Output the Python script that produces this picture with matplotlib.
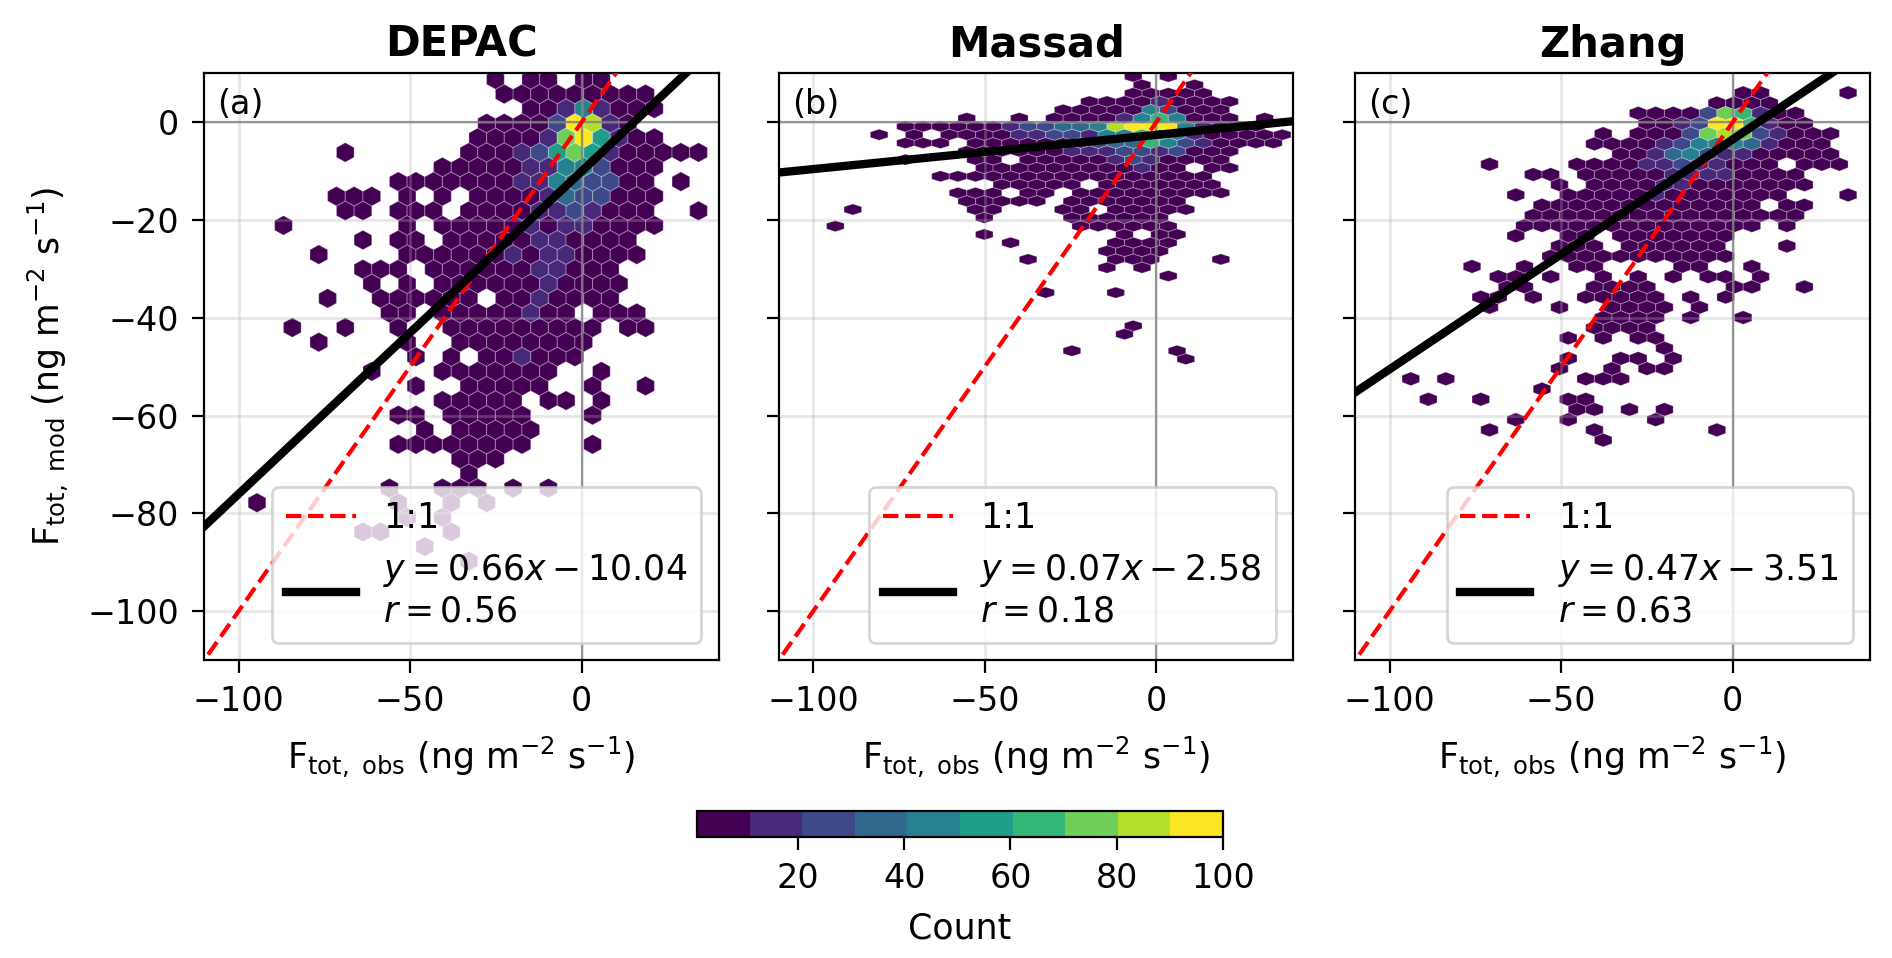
import numpy as np
import matplotlib
matplotlib.use('Agg')
import matplotlib.pyplot as plt

titles = ['DEPAC', 'Massad', 'Zhang']
panel_labels = ['(a)', '(b)', '(c)']
fit_slope = [0.66, 0.07, 0.47]
fit_intercept = [-10.04, -2.58, -3.51]
fit_r = [0.56, 0.18, 0.63]
x_ticks = [-100, -50, 0]
y_ticks = [0, -20, -40, -60, -80, -100]
cbar_ticks = [20, 40, 60, 80, 100]

# hex-cell lattice of each panel
grid_x0 = [-110.1, -108.89, -106.6]   # obs value of column 0
grid_sx = [5.15, 5.11, 5.10]          # column spacing
grid_y0 = [-0.2, -34.85, -8.6]        # mod value of row 0
grid_dy = [2.986, 1.70, 2.09]         # row spacing

# cells: (row, occupied columns, cells whose count is higher: column:count/10)
# occupied cells without an entry hold a handful of points
depac_cells = [
    (3, "16,18-19,21-22", ""),
    (2, "17-25", ""),
    (1, "18-25", "20:1,21:4,22:1"),
    (0, "16-24", "20:2,21:9,22:8,23:1"),
    (-1, "15-25", "19:1,20:7,21:9,22:5,23:1"),
    (-2, "8,15-28", "18:1,19:2,20:5,21:7,22:5,23:1"),
    (-3, "13-25", "18:1,19:1,20:4,21:4,22:2"),
    (-4, "11-25,27", "18:1,19:1,20:4,21:3,22:2,23:2"),
    (-5, "7-9,11,13,15-25", "19:1,20:3,21:2,22:2"),
    (-6, "8-9,11-13,15-25,28", "19:1,20:1,21:2,22:1"),
    (-7, "4,11,13-25", "18:1,20:1,21:1"),
    (-8, "9,11-12,14-24", "19:1,20:1"),
    (-9, "6,11-24", "17:1,19:1,20:1"),
    (-10, "9-11,13-23", "19:1,20:1"),
    (-11, "9,11,13-23", "19:1"),
    (-12, "7,10-15,17-23", "19:1"),
    (-13, "10-11,13-20,22-24", "18:1"),
    (-14, "5,8,11,14-22,24-25", ""),
    (-15, "6,11,14-21", ""),
    (-16, "12,14,16-21", "18:1"),
    (-17, "9,13-19,22", ""),
    (-18, "12,15-19,22,25", ""),
    (-19, "13-17,19-20,22", ""),
    (-20, "11-12,14-18,22", ""),
    (-21, "12,14-18", ""),
    (-22, "11-18,22", ""),
    (-23, "14-16", ""),
    (-24, "15", ""),
    (-25, "10,13-15,17,19", ""),
    (-26, "3,11,14,16", ""),
    (-27, "11,13", ""),
    (-28, "9-10,14", ""),
    (-29, "12", ""),
    (-30, "15", ""),
]

massad_cells = [
    (26, "20,22", ""),
    (25, "20,23", ""),
    (24, "20-24", ""),
    (23, "17-25", "21:1"),
    (22, "16-25", "21:4,22:2"),
    (21, "10,13,15-25,27", "19:1,20:4,21:6,22:4"),
    (20, "7-27", "13:1,14:2,15:2,16:3,17:3,18:4,19:8,20:9,21:9,22:9,23:4,24:1"),
    (19, "5,7,9-28", "13:1,14:1,15:2,16:2,17:1,18:4,19:4,20:6,21:6,22:4,23:1"),
    (18, "7-9,11-28", "17:1,18:2,19:3,20:3,21:6,22:4,23:2,24:1"),
    (17, "10-25", "16:1,17:1,18:1,19:2,20:2,21:1,22:2"),
    (16, "7,11-12,14-25", "19:1,20:2,21:1"),
    (15, "11-22,24-25", "20:1"),
    (14, "9-24", ""),
    (13, "12-16,18-24", ""),
    (12, "10-12,14-15,17-25", ""),
    (11, "10-14,16-22", ""),
    (10, "4,11-12,16-17,19-23", ""),
    (9, "11,16-21", ""),
    (8, "3,17-22", ""),
    (7, "11,19,21-22", ""),
    (6, "13,19-22", ""),
    (5, "18-21", ""),
    (4, "14,19-21,25", ""),
    (3, "18,20", ""),
    (2, "22", ""),
    (0, "15,19", ""),
    (-4, "20", ""),
    (-5, "19", ""),
    (-7, "16,22", ""),
    (-8, "23", ""),
]

zhang_cells = [
    (7, "21-22,27", ""),
    (6, "20-23", ""),
    (5, "15-24", "19:2,20:7,21:6,22:1"),
    (4, "16-25", "18:1,19:2,20:9,21:9,22:6,23:1"),
    (3, "13,15-26", "18:2,19:7,20:8,21:7,22:2,23:1"),
    (2, "13-26", "17:1,18:2,19:4,20:4,21:4,22:3,23:1"),
    (1, "14-26", "16:1,17:3,18:4,19:2,20:1,21:1"),
    (0, "7,12-23,25-27", "16:1,17:1,18:2,19:1,20:1"),
    (-1, "9-10,12-24", "17:1,18:1,19:1,20:1"),
    (-2, "11,13-25", "17:1,18:1"),
    (-3, "8,11-23,27", "16:1"),
    (-4, "10-22,24-25", ""),
    (-5, "9-24", ""),
    (-6, "9-22,24", ""),
    (-7, "8,11-12,14-20", ""),
    (-8, "11-13,15-20,24", ""),
    (-9, "10-20", ""),
    (-10, "6,9,12-13,18-19,22", ""),
    (-11, "7-8,10,13,15,17,19-20,22", ""),
    (-12, "8-9,13-16,21-22,25", ""),
    (-13, "6-7,9,12-16,18,20", ""),
    (-14, "7,11,14-17,19", ""),
    (-15, "13-16,18,21", ""),
    (-16, "13-16", ""),
    (-17, "11,13,15-16", ""),
    (-18, "17", ""),
    (-19, "11,14-15,17", ""),
    (-20, "11,14,16-17", ""),
    (-21, "2,4,12-14", ""),
    (-22, "10", ""),
    (-23, "3,6,11-12", ""),
    (-24, "12-13,15,17", ""),
    (-25, "8,11,16", ""),
    (-26, "7,13,20", ""),
    (-27, "13", ""),
]
panel_cells = [depac_cells, massad_cells, zhang_cells]
low_count = 4


def expand(spec):
    cols = []
    for part in spec.split(','):
        part = part.strip()
        if not part:
            continue
        if '-' in part:
            a, b = part.split('-')
            cols.extend(range(int(a), int(b) + 1))
        else:
            cols.append(int(part))
    return cols


def cells_to_points(cells, x0, sx, y0, dy):
    xs, ys, cs = [], [], []
    for r, occ, hi in cells:
        over = {}
        for item in hi.split(','):
            if item:
                k, v = item.split(':')
                over[int(k)] = int(v) * 10 + 5
        for c in expand(occ):
            xs.append(x0 + (c + 0.5 * (r % 2)) * sx)
            ys.append(y0 + r * dy)
            cs.append(over.get(c, low_count))
    rows = [r for r, _, _ in cells]
    rlow = min(rows) - 2
    rlow -= rlow % 2
    ny = (max(rows) - rlow) // 2 + 2
    ymin = y0 + rlow * dy
    nx = 30
    extent = (x0, x0 + nx * sx, ymin, ymin + ny * 2 * dy)
    return np.array(xs), np.array(ys), np.array(cs, float), (nx, ny), extent


cmap = plt.get_cmap('viridis', 10)
plt.rcParams['xtick.major.size'] = 4.5
plt.rcParams['ytick.major.size'] = 4.5
plt.rcParams['xtick.major.pad'] = 4.5
plt.rcParams['ytick.major.pad'] = 4.5

fig = plt.figure(figsize=(9.46, 4.79), dpi=200)
lefts = [0.1080, 0.4117, 0.7164]
axes = [fig.add_axes([l, 0.3111, 0.2719, 0.6123]) for l in lefts]

xlim = (-110, 40)
ylim = (-110, 10)
hb0 = None
for i, ax in enumerate(axes):
    x, y, c, gs, ext = cells_to_points(panel_cells[i], grid_x0[i], grid_sx[i],
                                       grid_y0[i], grid_dy[i])
    hb = ax.hexbin(x, y, C=c, reduce_C_function=np.sum, gridsize=gs, extent=ext,
                   cmap=cmap, vmin=1, vmax=100, edgecolors=(1, 1, 1, 0.25),
                   linewidths=0.4, zorder=1)
    if hb0 is None:
        hb0 = hb
    ax.grid(True, color='#b0b0b0', alpha=0.3, lw=1.0)
    ax.axhline(0, color='grey', lw=0.8, alpha=0.8, zorder=1.6)
    ax.axvline(0, color='grey', lw=0.8, alpha=0.8, zorder=1.6)
    xx = np.array([-120, 50])
    ax.plot(xx, xx, color='red', ls='--', lw=1.5, label='1:1', zorder=3)
    ax.plot(xx, fit_slope[i] * xx + fit_intercept[i], color='black', lw=3,
            label='$y = %.2fx - %.2f$\n$r = %.2f$' % (fit_slope[i], -fit_intercept[i], fit_r[i]),
            zorder=3)
    ax.set_xlim(*xlim)
    ax.set_ylim(*ylim)
    ax.set_xticks(x_ticks)
    ax.set_yticks(y_ticks)
    ax.tick_params(labelsize=12)
    if i > 0:
        ax.tick_params(labelleft=False)
    ax.set_title(titles[i], fontsize=15, fontweight='bold')
    ax.text(0.025, 0.975, panel_labels[i], transform=ax.transAxes, ha='left', va='top',
            fontsize=12)
    ax.set_xlabel(r'F$_{\rm tot,\ obs}$ (ng m$^{-2}$ s$^{-1}$)', fontsize=12.5, labelpad=6)
    ax.legend(loc='lower right', fontsize=12.5)
axes[0].set_ylabel(r'F$_{\rm tot,\ mod}$ (ng m$^{-2}$ s$^{-1}$)', fontsize=12.5, labelpad=6)

cax = fig.add_axes([0.3684, 0.1263, 0.2780, 0.0272])
cb = fig.colorbar(hb0, cax=cax, orientation='horizontal')
cb.set_ticks(cbar_ticks)
cb.ax.tick_params(labelsize=12)
cb.set_label('Count', fontsize=12.5, labelpad=6)

fig.savefig('out.png', dpi=200)
